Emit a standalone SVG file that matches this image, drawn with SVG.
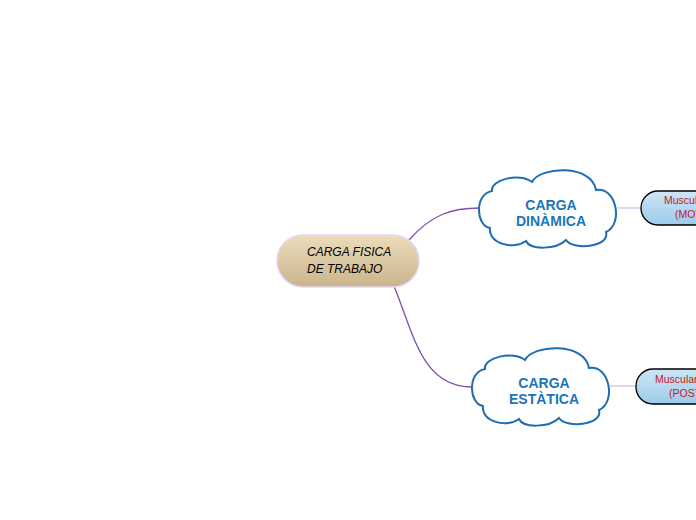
<svg xmlns="http://www.w3.org/2000/svg" width="696" height="520" viewBox="0 0 696 520">
  <defs>
    <linearGradient id="gCentral" x1="0" y1="0" x2="0" y2="1">
      <stop offset="0" stop-color="#ecdcbb"/>
      <stop offset="1" stop-color="#c9b48c"/>
    </linearGradient>
    <linearGradient id="gBlue" x1="0" y1="0" x2="0" y2="1">
      <stop offset="0" stop-color="#cde7f7"/>
      <stop offset="1" stop-color="#9ccbea"/>
    </linearGradient>
    <path id="cloud" d="M 490,228 C 476,226 474,194 492,191 C 490,180 520,172 532,182 C 540,166 592,164 596,190 C 616,186 624,224 606,232 C 610,248 572,250 566,240 C 556,250 530,250 526,241 C 514,250 488,244 490,228 Z"/>
  </defs>
  <style>
    .main { fill: none; stroke: #7f4fae; stroke-width: 1.3; }
    .sub { fill: none; stroke: #c7a9df; stroke-width: 1; }
    .cloud { fill: #ffffff; stroke: #1f6db2; stroke-width: 2; }
    .ctext { font-family: "Liberation Sans", Arial, sans-serif; font-weight: bold; font-size: 14px; fill: #1b76b8; text-anchor: middle; }
    .mtext { font-family: "Liberation Sans", Arial, sans-serif; font-style: italic; font-size: 12px; fill: #000000; }
    .rtext { font-family: "Liberation Sans", Arial, sans-serif; font-size: 10.5px; fill: #c4161c; }
    .box { fill: url(#gBlue); stroke: #000000; stroke-width: 1.3; }
  </style>
  <g id="connectors">
    <path class="main" d="M 409,240 C 432,214 452,208 480,208"/>
    <path class="main" d="M 394,286 C 414,335 422,387 472,387"/>
    <path class="sub" d="M 617,208 L 641,208"/>
    <path class="sub" d="M 610,386 L 636,386"/>
  </g>
  <g id="central">
    <rect x="277" y="235" width="142" height="52" rx="26" ry="26" fill="url(#gCentral)" stroke="#e6d6f2" stroke-width="1.5"/>
    <text class="mtext" x="307" y="256">CARGA FISICA</text>
    <text class="mtext" x="307" y="273">DE TRABAJO</text>
  </g>
  <g id="dinamica">
    <use href="#cloud" class="cloud"/>
    <text class="ctext" x="551" y="210">CARGA</text>
    <text class="ctext" x="551" y="226">DINÀMICA</text>
  </g>
  <g id="estatica">
    <use href="#cloud" class="cloud" transform="translate(-7,178)"/>
    <text class="ctext" x="544" y="388">CARGA</text>
    <text class="ctext" x="544" y="404">ESTÀTICA</text>
  </g>
  <g id="mov">
    <rect class="box" x="641" y="191" width="120" height="34" rx="17" ry="17"/>
    <text class="rtext" x="664" y="204">Muscular</text>
    <text class="rtext" x="675" y="218">(MOVIMIENTO)</text>
  </g>
  <g id="post">
    <rect class="box" x="636" y="369" width="120" height="35" rx="17" ry="17"/>
    <text class="rtext" x="655" y="383">Muscular</text>
    <text class="rtext" x="669" y="397">(POSTURA)</text>
  </g>
</svg>
